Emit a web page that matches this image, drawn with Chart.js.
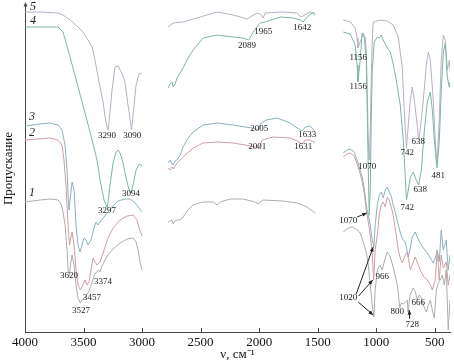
<!DOCTYPE html>
<html>
<head>
<meta charset="utf-8">
<style>
  html, body { margin: 0; padding: 0; background: #fff; }
</style>
<script src="https://cdn.jsdelivr.net/npm/chart.js@4.4.1/dist/chart.umd.min.js"></script>
</head>
<body>
<canvas id="myChart" width="454" height="364"></canvas>
<script>
// волновое число (см-1), пропускание (отн. ед.); null = разрыв спектра
const curva5 = [
  [4000, 320], [3872, 320], [3718, 319], [3675, 317], [3615, 312], [3556, 306], [3504, 300], [3462, 292],
  [3427, 285], [3402, 272], [3376, 255], [3350, 240], [3333, 230], [3316, 215], [3299, 205], [3290, 202],
  [3274, 220], [3257, 242], [3231, 265], [3205, 266], [3188, 262], [3162, 256], [3145, 249], [3120, 227],
  [3090, 202], [3077, 217], [3051, 247], [3026, 258], [3000, 259],
  [2900, null],
  [2778, 305], [2735, 309], [2650, 310], [2590, 312], [2504, 315], [2359, 320], [2222, 317], [2162, 315],
  [2103, 313], [2077, 315], [2017, 319], [1991, 318], [1965, 314], [1949, 319], [1795, 320], [1675, 319],
  [1642, 315], [1598, 318], [1564, 320], [1521, 319],
  [1400, null],
  [1282, 312], [1222, 310], [1180, 304], [1163, 294], [1156, 284], [1137, 290], [1111, 299], [1094, 294],
  [1085, 282], [1077, 242], [1068, 192], [1060, 172], [1051, 202], [1043, 252], [1034, 292], [1026, 310],
  [966, 312], [906, 311], [855, 307], [812, 295], [778, 265], [761, 222], [742, 184], [726, 207],
  [709, 232], [692, 245], [675, 232], [650, 207], [638, 192], [624, 202], [598, 232], [572, 267],
  [555, 280], [538, 272], [513, 232], [496, 192], [481, 167], [462, 212], [445, 272], [427, 297],
  [410, 292], [393, 262], [376, 272], [370, 262]
];

const curva4 = [
  [4000, 305], [3718, 305], [3675, 300], [3615, 275], [3556, 249], [3487, 219], [3427, 192], [3385, 172],
  [3359, 152], [3325, 132], [3297, 124], [3274, 147], [3248, 169], [3222, 180], [3205, 182], [3188, 179],
  [3162, 169], [3137, 154], [3111, 142], [3094, 139], [3077, 147], [3051, 162], [3026, 168], [3000, 166],
  [2900, null],
  [2778, 244], [2761, 248], [2744, 250], [2735, 245], [2718, 248], [2701, 254], [2650, 264], [2607, 274],
  [2564, 282], [2479, 294], [2359, 297], [2222, 295], [2137, 294], [2089, 292], [2051, 300], [1991, 309],
  [1949, 310], [1821, 315], [1709, 314], [1650, 312], [1624, 310], [1590, 315], [1547, 319], [1521, 317],
  [1400, null],
  [1282, 300], [1222, 298], [1180, 287], [1163, 267], [1156, 250], [1137, 272], [1120, 299], [1103, 295],
  [1085, 272], [1077, 222], [1068, 162], [1060, 117], [1051, 142], [1043, 212], [1034, 262], [1017, 290],
  [991, 295], [974, 294], [957, 297], [940, 292], [906, 284], [880, 280], [855, 268], [829, 252],
  [795, 227], [769, 192], [742, 132], [726, 142], [709, 155], [684, 160], [658, 152], [638, 147],
  [615, 162], [590, 200], [564, 230], [538, 240], [521, 222], [504, 192], [487, 170], [481, 164],
  [462, 190], [445, 240], [427, 280], [410, 289], [393, 255], [376, 245], [370, 250]
];

const curva3 = [
  [4000, 206], [3872, 208], [3786, 209], [3718, 207], [3684, 202], [3658, 187], [3641, 162], [3632, 137],
  [3624, 122], [3615, 132], [3598, 150], [3581, 142], [3564, 107], [3547, 87], [3530, 80], [3513, 87],
  [3496, 94], [3479, 92], [3462, 87], [3436, 92], [3410, 104], [3393, 110], [3376, 107], [3359, 110],
  [3325, 115], [3291, 120], [3248, 126], [3205, 131], [3145, 133], [3103, 133], [3060, 129], [3026, 124],
  [3000, 120],
  [2900, null],
  [2778, 169], [2761, 172], [2744, 168], [2735, 167], [2718, 171], [2701, 172], [2675, 177], [2650, 185],
  [2607, 194], [2564, 200], [2479, 207], [2359, 209], [2222, 207], [2120, 205], [2060, 204], [2005, 202],
  [1991, 208], [1940, 212], [1846, 214], [1735, 209], [1675, 204], [1633, 201], [1607, 205], [1564, 206],
  [1521, 200],
  [1400, null],
  [1282, 179], [1248, 182], [1222, 183], [1188, 180], [1163, 172], [1137, 162], [1120, 155], [1103, 144],
  [1085, 127], [1068, 117], [1051, 107], [1034, 92], [1020, 85], [1009, 107], [991, 127], [974, 137],
  [957, 140], [940, 134], [923, 142], [906, 145], [889, 140], [872, 136], [855, 127], [838, 120],
  [812, 107], [786, 96], [769, 92], [752, 90], [726, 75], [709, 84], [692, 95], [667, 100],
  [650, 95], [624, 89], [598, 84], [564, 79], [538, 74], [513, 69], [496, 74], [479, 82],
  [462, 70], [445, 102], [427, 82], [402, 92], [385, 62], [370, 77]
];

const curva2 = [
  [4000, 192], [3786, 194], [3718, 192], [3684, 187], [3667, 172], [3650, 147], [3632, 107], [3620, 87],
  [3612, 92], [3598, 100], [3581, 87], [3564, 62], [3547, 47], [3527, 42], [3513, 45], [3487, 52],
  [3470, 47], [3453, 50], [3436, 62], [3419, 74], [3402, 70], [3385, 67], [3359, 70], [3325, 82],
  [3291, 94], [3248, 104], [3188, 112], [3128, 116], [3077, 117], [3043, 112], [3026, 104], [3000, 96],
  [2900, null],
  [2778, 164], [2761, 162], [2744, 165], [2735, 163], [2701, 169], [2650, 175], [2564, 184], [2479, 189],
  [2359, 190], [2222, 189], [2120, 187], [2034, 185], [2001, 184], [1974, 192], [1880, 195], [1735, 194],
  [1675, 191], [1631, 188], [1607, 192], [1564, 192], [1521, 189],
  [1400, null],
  [1282, 175], [1248, 178], [1222, 179], [1188, 176], [1163, 168], [1137, 158], [1120, 150], [1103, 139],
  [1085, 122], [1068, 110], [1051, 97], [1034, 77], [1022, 52], [1009, 82], [991, 97], [974, 117],
  [957, 127], [940, 130], [923, 125], [906, 135], [889, 132], [872, 125], [855, 117], [829, 97],
  [812, 82], [795, 74], [778, 69], [752, 77], [735, 80], [709, 62], [684, 70], [667, 75],
  [641, 67], [624, 62], [598, 56], [564, 52], [538, 47], [521, 42], [496, 52], [479, 82],
  [462, 52], [445, 77], [427, 64], [402, 70], [385, 47], [370, 57]
];

const curva1 = [
  [4000, 130], [3872, 132], [3786, 133], [3718, 132], [3692, 128], [3675, 120], [3658, 107], [3641, 82],
  [3632, 62], [3620, 56], [3612, 67], [3598, 77], [3581, 67], [3564, 47], [3547, 34], [3527, 29],
  [3513, 32], [3496, 34], [3479, 36], [3457, 40], [3444, 44], [3427, 50], [3402, 58], [3374, 62],
  [3360, 60], [3342, 66], [3299, 76], [3248, 83], [3188, 89], [3128, 93], [3077, 94], [3051, 90],
  [3034, 82], [3017, 70], [3000, 62],
  [2900, null],
  [2778, 110], [2761, 111], [2744, 112], [2735, 108], [2718, 111], [2701, 112], [2675, 112], [2650, 115],
  [2607, 122], [2564, 127], [2479, 130], [2393, 130], [2359, 127], [2333, 130], [2248, 133], [2137, 133],
  [2034, 130], [2009, 128], [1966, 132], [1795, 131], [1675, 129], [1590, 125], [1521, 119],
  [1400, null],
  [1282, 100], [1239, 104], [1205, 105], [1171, 103], [1137, 99], [1111, 90], [1085, 80], [1068, 67],
  [1051, 47], [1034, 27], [1020, 15], [1009, 42], [991, 62], [974, 66], [966, 67], [949, 62],
  [923, 74], [906, 80], [880, 75], [855, 65], [829, 52], [812, 40], [800, 24], [786, 29],
  [769, 28], [752, 30], [735, 32], [728, 20], [711, 37], [684, 44], [666, 40], [650, 32],
  [632, 37], [615, 34], [598, 27], [572, 20], [555, 27], [538, 32], [521, 22], [504, 14],
  [487, 42], [470, 49], [453, 52], [436, 57], [419, 47], [402, 62], [385, 2], [370, 32]
];

const ticksX = [4000, 3500, 3000, 2500, 2000, 1500, 1000, 500];

const numeros = [
  ["5", 3932, 325], ["4", 3932, 311], ["3", 3940, 215], ["2", 3940, 199], ["1", 3940, 139]
];

const picos = [
  ["3290", 3299, 196], ["3090", 3085, 196], ["3297", 3299, 121], ["3094", 3094, 138],
  ["3620", 3624, 56], ["3374", 3333, 50], ["3457", 3427, 34], ["3527", 3521, 21],
  ["1965", 1966, 300], ["1642", 1632, 304], ["2089", 2103, 286],
  ["2005", 2000, 203], ["1633", 1590, 197], ["2001", 2017, 185], ["1631", 1624, 185],
  ["1156", 1154, 274], ["1156", 1154, 245], ["1070", 1077, 165],
  ["742", 735, 179], ["638", 641, 190], ["742", 735, 124], ["638", 624, 142], ["481", 470, 156],
  ["1070", 1239, 111], ["966", 949, 55], ["1020", 1239, 34],
  ["800", 820, 20], ["666", 641, 29], ["728", 692, 7]
];

const flechas = [
  [[1163, 115], [1080, 119]],
  [[1171, 38], [1026, 85]],
  [[1150, 36], [1030, 52]],
  [[1154, 30], [1026, 17]],
  [[714, 13], [718, 22]]
];

const colores = ["#adadad", "#cc9fa4", "#8ab2bf", "#7db5a6", "#bbafc2"];
const curvas = [curva1, curva2, curva3, curva4, curva5];

const datasets = curvas.map((curva, i) => ({
  label: String(i + 1),
  data: curva.map((p) => ({ x: p[0], y: p[1] })),
  borderColor: colores[i],
  borderWidth: 1,
  pointRadius: 0,
  tension: 0,
  spanGaps: false,
}));

const punta = (ctx, x1, y1, x2, y2) => {
  const ang = Math.atan2(y2 - y1, x2 - x1);
  ctx.beginPath();
  ctx.moveTo(x2, y2);
  ctx.lineTo(x2 - 5 * Math.cos(ang - 0.4), y2 - 5 * Math.sin(ang - 0.4));
  ctx.lineTo(x2 - 5 * Math.cos(ang + 0.4), y2 - 5 * Math.sin(ang + 0.4));
  ctx.closePath();
  ctx.fill();
};

const anotaciones = {
  id: "anotaciones",
  afterDraw(chart) {
    const { ctx, chartArea, scales: { x, y } } = chart;
    ctx.save();
    ctx.strokeStyle = "#444";
    ctx.fillStyle = "#444";
    ctx.lineWidth = 1;
    // inner ticks on the x axis
    ticksX.forEach((v) => {
      const px = Math.round(x.getPixelForValue(v)) + 0.5;
      ctx.beginPath();
      ctx.moveTo(px, chartArea.bottom);
      ctx.lineTo(px, chartArea.bottom - 4);
      ctx.stroke();
    });
    // arrow on the y axis
    const ax = chartArea.left + 0.5;
    ctx.beginPath();
    ctx.moveTo(ax, chartArea.top);
    ctx.lineTo(ax, chartArea.top - 2);
    ctx.stroke();
    punta(ctx, ax, chartArea.top + 5, ax, chartArea.top - 3);

    ctx.fillStyle = "#222";
    ctx.textAlign = "center";
    ctx.textBaseline = "middle";
    ctx.font = "italic 12px 'Liberation Serif'";
    numeros.forEach(([t, vx, vy]) => ctx.fillText(t, x.getPixelForValue(vx), y.getPixelForValue(vy)));

    ctx.font = "9px 'Liberation Serif'";
    picos.forEach(([t, vx, vy]) => ctx.fillText(t, x.getPixelForValue(vx), y.getPixelForValue(vy)));

    ctx.strokeStyle = "#222";
    ctx.fillStyle = "#222";
    flechas.forEach(([a, b]) => {
      const x1 = x.getPixelForValue(a[0]);
      const y1 = y.getPixelForValue(a[1]);
      const x2 = x.getPixelForValue(b[0]);
      const y2 = y.getPixelForValue(b[1]);
      ctx.beginPath();
      ctx.moveTo(x1, y1);
      ctx.lineTo(x2, y2);
      ctx.stroke();
      punta(ctx, x1, y1, x2, y2);
    });
    ctx.restore();
  },
};

const fuente = { family: "'Liberation Serif'", size: 13 };

const config = {
  type: "line",
  data: { datasets },
  options: {
    responsive: false,
    animation: false,
    layout: { padding: { top: 5, right: 4, left: 0, bottom: 0 } },
    plugins: { legend: { display: false }, tooltip: { enabled: false } },
    scales: {
      x: {
        type: "linear",
        reverse: true,
        min: 370,
        max: 4000,
        afterBuildTicks: (scale) => {
          scale.ticks = ticksX.map((v) => ({ value: v }));
        },
        afterFit: (scale) => {
          scale.height = 32;
        },
        grid: { display: false, drawTicks: false },
        border: { color: "#444", width: 1 },
        ticks: {
          padding: 3,
          color: "#111",
          font: fuente,
          maxRotation: 0,
          autoSkip: false,
          callback: (valor) => String(valor),
        },
        title: { display: true, text: "ν, см⁻¹", color: "#111", font: fuente, padding: { top: 0, bottom: 2 } },
      },
      y: {
        min: 0,
        max: 327,
        afterFit: (scale) => {
          scale.width = 25;
        },
        grid: { display: false, drawTicks: false },
        border: { color: "#444", width: 1 },
        ticks: { display: false },
        title: { display: true, text: "Пропускание", color: "#111", font: fuente, padding: { top: 1, bottom: 0 } },
      },
    },
  },
  plugins: [anotaciones],
};

const myChart = new Chart(document.querySelector("#myChart"), config);
</script>
</body>
</html>
